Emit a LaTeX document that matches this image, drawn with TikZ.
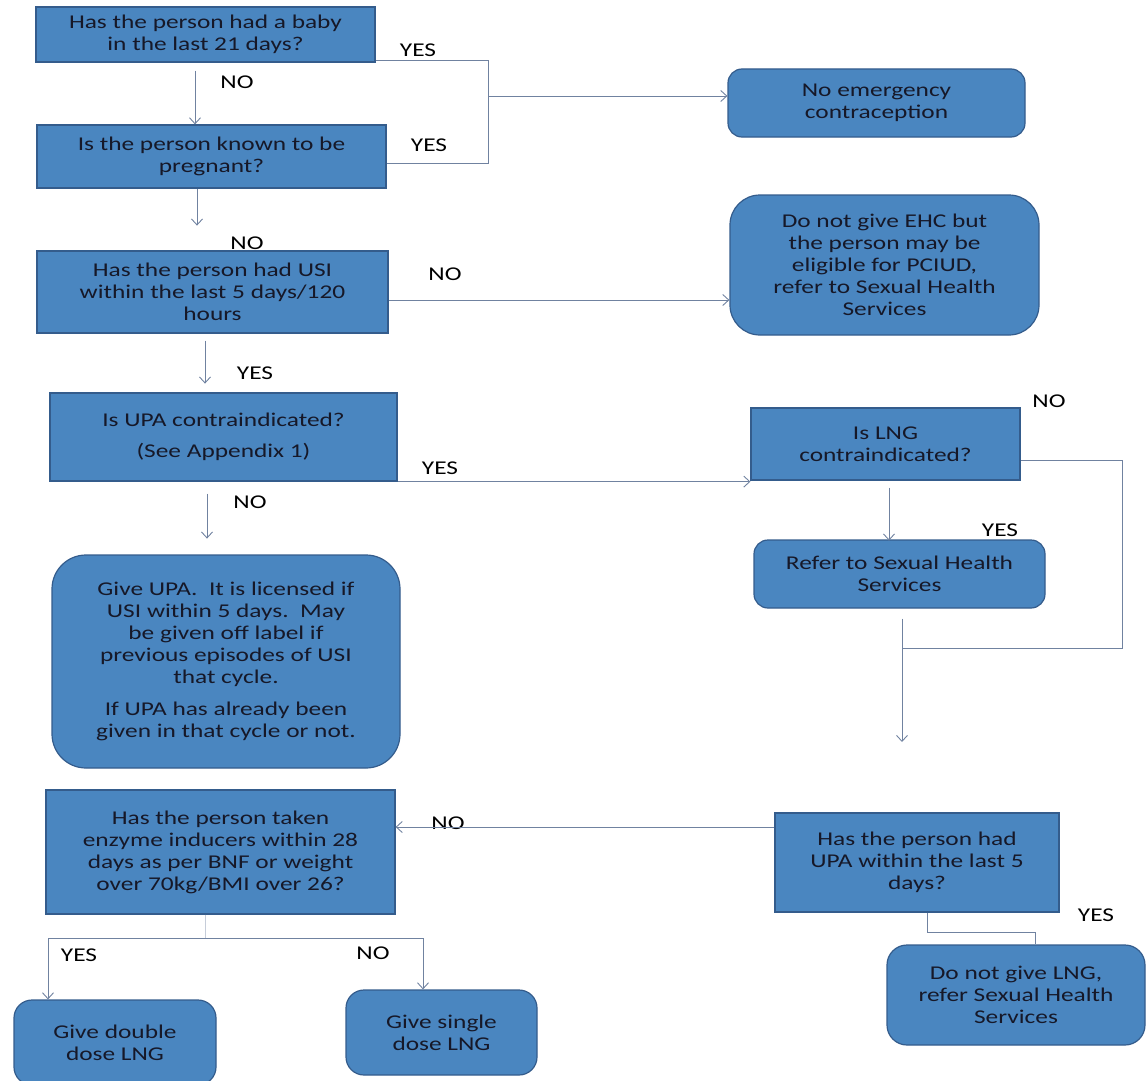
\documentclass[tikz,border=0pt]{standalone}
\usepackage{fontspec}
\setmainfont{Carlito}[FakeStretch=1.3]
\usetikzlibrary{arrows.meta}

\definecolor{boxfill}{RGB}{74,134,192}
\definecolor{boxline}{RGB}{52,92,140}
\definecolor{flow}{RGB}{112,130,160}
\definecolor{ink}{RGB}{22,24,40}

\begin{document}
\begin{tikzpicture}[x=1pt,y=-1pt,>={Straight Barb[length=6pt,width=11pt]},color=flow,line width=0.9pt,
    qbox/.style={rectangle,draw=boxline,fill=boxfill,line width=1.2pt,align=center,text=ink,inner sep=2pt,font=\fontsize{19.5}{22}\selectfont},
    endbox/.style={qbox,rounded corners=14pt},
    lbl/.style={text=black,inner sep=0pt,font=\fontsize{19.5}{22}\selectfont}]
    \useasboundingbox (0,0) rectangle (1146,1081);
    \clip (0,0) rectangle (1146,1081);

    % questions
    \node[qbox,minimum width=339,minimum height=55] (baby) at (205.5,34.5) {Has the person had a baby\\in the last 21 days?};
    \node[qbox,minimum width=349,minimum height=63] (preg) at (211.5,156.5) {Is the person known to be\\pregnant?};
    \node[qbox,minimum width=351,minimum height=82] (usi) at (212.5,292) {Has the person had USI\\within the last 5 days/120\\hours};
    \node[qbox,minimum width=347,minimum height=88] (upaci) at (223.5,437) {Is UPA contraindicated?\\[9pt](See Appendix 1)};
    \node[qbox,minimum width=269,minimum height=72] (lngci) at (885.5,444) {Is LNG\\contraindicated?};
    \node[qbox,minimum width=349,minimum height=124] (enz) at (220.5,852) {Has the person taken\\enzyme inducers within 28\\days as per BNF or weight\\over 70kg/BMI over 26?};
    \node[qbox,minimum width=284,minimum height=99] (hadupa) at (917,862.5) {Has the person had\\UPA within the last 5\\days?};

    % outcomes
    \node[endbox,minimum width=297,minimum height=68] (noec) at (876.5,103) {No emergency\\contraception};
    \node[endbox,rounded corners=30pt,minimum width=309,minimum height=140] (noehc) at (884.5,265) {Do not give EHC but\\the person may be\\eligible for PCIUD,\\refer to Sexual Health\\Services};
    \node[endbox,minimum width=291,minimum height=68] (refer) at (899.5,574) {Refer to Sexual Health\\Services};
    \node[endbox,rounded corners=34pt,minimum width=348,minimum height=213] (giveupa) at (226,661.5) {Give UPA.\ \ It is licensed if\\USI within 5 days.\ \ May\\be given off label if\\previous episodes of USI\\that cycle.\\[10pt]If UPA has already been\\given in that cycle or not.};
    \node[endbox,rounded corners=18pt,minimum width=202,minimum height=85] (double) at (115,1042.5) {Give double\\dose LNG};
    \node[endbox,rounded corners=18pt,minimum width=191,minimum height=85] (single) at (441.5,1032.5) {Give single\\dose LNG};
    \node[endbox,rounded corners=20pt,minimum width=258,minimum height=100] (nolng) at (1016,995) {Do not give LNG,\\refer Sexual Health\\Services};

    % labels
    \node[lbl] (l1) at (418,50) {YES};
    \node[lbl] (l2) at (237,82) {NO};
    \node[lbl] (l3) at (429,145) {YES};
    \node[lbl] (l4) at (247,243) {NO};
    \node[lbl] (l5) at (445,274) {NO};
    \node[lbl] (l6) at (255,373) {YES};
    \node[lbl] (l7) at (440,468) {YES};
    \node[lbl] (l8) at (250,502) {NO};
    \node[lbl] (l9) at (1049,401) {NO};
    \node[lbl] (l10) at (1000,530) {YES};
    \node[lbl] (l11) at (448,823) {NO};
    \node[lbl] (l12) at (1096,915) {YES};
    \node[lbl] (l13) at (79,955) {YES};
    \node[lbl] (l14) at (373,953) {NO};

    % junctions
    \coordinate (j1) at (488,96);
    \coordinate (usiout) at ([yshift=-8pt]usi.east);
    \coordinate (m1) at (902,648);
    \coordinate (m2) at (902,742);
    \coordinate (hadout) at ([yshift=35.5pt]hadupa.west);
    \coordinate (s1) at (205,938);

    % connectors
    \draw[->,shorten <=8pt] ([xshift=-10.5pt]baby.south) -- ([xshift=-16.5pt]preg.north);
    \draw ([yshift=2pt]baby.south east) -| (j1);
    \draw ([yshift=-6.5pt]preg.east) -| (j1);
    \draw[->] (j1) -- (j1 -| noec.west);
    \draw[->] ([xshift=-14.5pt]preg.south) -- ++(0,37);
    \draw[->] (usiout) -- (usiout -| noehc.west);
    \draw[->,shorten <=7pt] ([xshift=-7.5pt]usi.south) -- ++(0,50);
    \draw[->] (upaci.south east) -- (upaci.south east -| lngci.west);
    \draw[->,shorten <=12pt] ([xshift=-16.5pt]upaci.south) -- ++(0,57);
    \draw[->,shorten <=7pt] ([xshift=3.5pt]lngci.south) -- ++(0,60);
    \draw ([yshift=-16pt]lngci.east) -- ++(102,0) |- (m1);
    \draw[->,shorten <=10pt] ([xshift=2.5pt]refer.south) -- (m2);
    \draw[->] (hadout) -- (hadout -| enz.east);
    \draw[flow!40] ([xshift=-15.5pt]enz.south) -- (s1);
    \draw[->] (s1) -| ([xshift=-67pt]double.north);
    \draw[->] (s1) -| ([xshift=-18.5pt]single.north);
    \draw ([xshift=10pt]hadupa.south) -- ++(0,20) -| ([xshift=19pt]nolng.north);
\end{tikzpicture}
\end{document}
